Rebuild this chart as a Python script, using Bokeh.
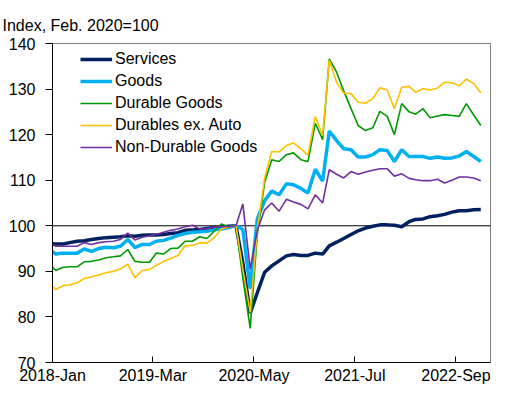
import pandas as pd
from bokeh.plotting import figure
from bokeh.models import (Span, Legend, LegendItem, FixedTicker,
                          DatetimeTickFormatter, Range1d)
from bokeh.embed import file_html
from bokeh.resources import INLINE

# Monthly observations (plotted at mid-month), Dec 2017 .. Dec 2022
months = pd.date_range("2017-12-01", "2022-12-01", freq="MS") + pd.Timedelta(days=14)

services = [96.1,
            96.0, 96.0, 96.3, 96.6, 96.7, 97.0, 97.2, 97.4, 97.5, 97.6, 97.8, 97.7,
            97.9, 98.0, 98.0, 98.1, 98.3, 98.5, 99.0, 99.1, 99.2, 99.4, 99.6, 99.7,
            99.9, 100.0, 91.8, 80.8, 85.3, 89.8, 91.2, 92.3, 93.4, 93.7, 93.5, 93.5,
            94.0, 93.8, 95.6, 96.4, 97.2, 98.1, 98.9, 99.5, 99.9, 100.2, 100.2, 100.1,
            99.8, 100.9, 101.4, 101.5, 102.0, 102.2, 102.5, 103.0, 103.3, 103.3, 103.5, 103.6]

goods = [94.9,
         93.8, 94.0, 94.0, 94.0, 94.9, 94.4, 95.0, 95.3, 95.2, 95.5, 97.0, 95.2,
         95.9, 95.9, 96.6, 96.8, 97.3, 97.9, 98.3, 98.6, 98.7, 98.8, 99.1, 99.3,
         99.6, 100.0, 99.2, 86.2, 101.5, 105.5, 107.6, 106.8, 109.2, 109.0, 108.2, 107.2,
         112.4, 109.8, 120.8, 118.7, 116.9, 116.7, 115.1, 115.1, 115.6, 116.7, 116.5, 114.1,
         116.7, 115.2, 115.2, 115.2, 114.8, 115.1, 114.8, 114.9, 115.3, 116.3, 115.2, 114.1]

durable = [91.8,
           90.2, 90.9, 91.0, 91.0, 92.1, 92.2, 92.5, 93.0, 93.2, 93.4, 94.8, 92.2,
           92.0, 92.0, 94.0, 93.8, 95.0, 95.1, 96.6, 96.6, 97.6, 97.2, 98.8, 100.4,
           99.8, 100.0, 88.5, 77.5, 98.0, 109.5, 114.5, 114.1, 115.6, 116.0, 114.5, 114.1,
           122.5, 118.9, 136.6, 133.7, 129.6, 125.7, 122.0, 120.9, 121.5, 125.1, 124.0, 120.0,
           126.8, 125.0, 124.5, 125.7, 123.7, 124.1, 124.4, 124.2, 124.0, 126.8, 124.3, 122.0]

durables_ex_auto = [87.6,
                    86.0, 86.9, 87.0, 87.5, 88.4, 88.8, 89.2, 89.7, 90.0, 90.5, 91.6, 88.6,
                    90.2, 90.4, 91.3, 92.2, 92.8, 93.5, 95.6, 95.7, 96.3, 96.2, 97.4, 99.3,
                    99.7, 100.0, 90.5, 81.0, 99.0, 110.5, 116.3, 116.2, 117.6, 118.2, 116.9, 115.5,
                    124.0, 119.8, 136.3, 131.5, 129.1, 129.0, 127.1, 126.9, 127.9, 130.3, 129.8, 125.7,
                    130.4, 130.6, 129.3, 130.1, 129.8, 130.2, 131.5, 131.4, 130.7, 132.2, 131.2, 129.2]

non_durable = [96.2,
               95.5, 95.5, 95.5, 95.5, 96.3, 95.9, 96.3, 96.5, 96.6, 97.0, 98.4, 96.9,
               97.5, 97.8, 98.1, 98.6, 99.0, 99.3, 99.8, 100.1, 99.3, 99.4, 99.7, 99.9,
               99.8, 100.0, 104.8, 90.5, 99.0, 103.5, 105.0, 103.2, 105.8, 105.2, 104.7, 103.7,
               106.8, 105.0, 112.3, 111.3, 110.5, 111.9, 111.3, 111.8, 112.2, 112.5, 112.5, 110.9,
               111.4, 110.4, 110.1, 109.9, 109.9, 110.2, 109.4, 110.0, 110.7, 110.7, 110.5, 109.9]

series_names = ["Services", "Goods", "Durable Goods", "Durables ex. Auto", "Non-Durable Goods"]
series_colors = ["#002060", "#00B0F0", "#009A00", "#FFC000", "#7030A0"]
series_widths = [3.5, 3.5, 1.6, 1.6, 1.6]

x_tick_dates = ["2018-01-01", "2019-03-01", "2020-05-01", "2021-07-01", "2022-09-01"]
y_ticks = [70, 80, 90, 100, 110, 120, 130, 140]

FONT = "Liberation Sans"
FSIZE = "16px"

x_start = pd.Timestamp("2018-01-01")
x_end = pd.Timestamp("2023-01-25")

p = figure(width=513, height=398, x_axis_type="datetime",
           output_backend="svg", toolbar_location=None,
           x_range=Range1d(x_start, x_end), y_range=Range1d(70, 140),
           min_border_left=52, min_border_right=23,
           min_border_top=43, min_border_bottom=36)

p.background_fill_color = "white"
p.border_fill_color = "white"
p.outline_line_color = "#808080"
p.outline_line_width = 1
p.xgrid.visible = False
p.ygrid.visible = False

p.title.text = "Index, Feb. 2020=100"
p.title.align = "left"
p.title.offset = -50
p.title.text_font = FONT
p.title.text_font_size = FSIZE
p.title.text_font_style = "normal"
p.title.text_color = "black"
p.title.standoff = 20

# x axis
xa = p.xaxis[0]
xa.ticker = FixedTicker(ticks=[pd.Timestamp(d).value / 1e6 for d in x_tick_dates])
xa.formatter = DatetimeTickFormatter(days="%Y-%b", months="%Y-%b", years="%Y-%b",
                                     hours="%Y-%b", minutes="%Y-%b")
xa.major_tick_in = 6
xa.major_tick_out = 0
xa.minor_tick_line_color = None
xa.axis_line_color = "black"
xa.major_tick_line_color = "black"
xa.major_label_text_font = FONT
xa.major_label_text_font_size = FSIZE
xa.major_label_text_color = "black"
xa.major_label_standoff = 4

# y axis
ya = p.yaxis[0]
ya.ticker = FixedTicker(ticks=y_ticks)
ya.major_tick_in = 0
ya.major_tick_out = 7
ya.minor_tick_line_color = None
ya.axis_line_color = "black"
ya.major_tick_line_color = "black"
ya.major_label_text_font = FONT
ya.major_label_text_font_size = FSIZE
ya.major_label_text_color = "black"
ya.major_label_standoff = 10

p.add_layout(Span(location=100, dimension="width", line_color="black",
                  line_width=1, level="underlay"))

all_series = [services, goods, durable, durables_ex_auto, non_durable]
items = []
for name, vals, col, w in zip(series_names, all_series, series_colors, series_widths):
    r = p.line(months, vals, line_color=col, line_width=w)
    items.append(LegendItem(label=name, renderers=[r]))

legend = Legend(items=items, location=(28, 205))
legend.border_line_color = None
legend.background_fill_alpha = 0
legend.label_text_font = FONT
legend.label_text_font_size = FSIZE
legend.label_text_color = "black"
legend.glyph_width = 32
legend.glyph_height = 20
legend.label_height = 20
legend.spacing = 2
legend.padding = 0
legend.margin = 0
legend.label_standoff = 3
p.add_layout(legend)

open("out.html", "w").write(file_html(p, INLINE))
